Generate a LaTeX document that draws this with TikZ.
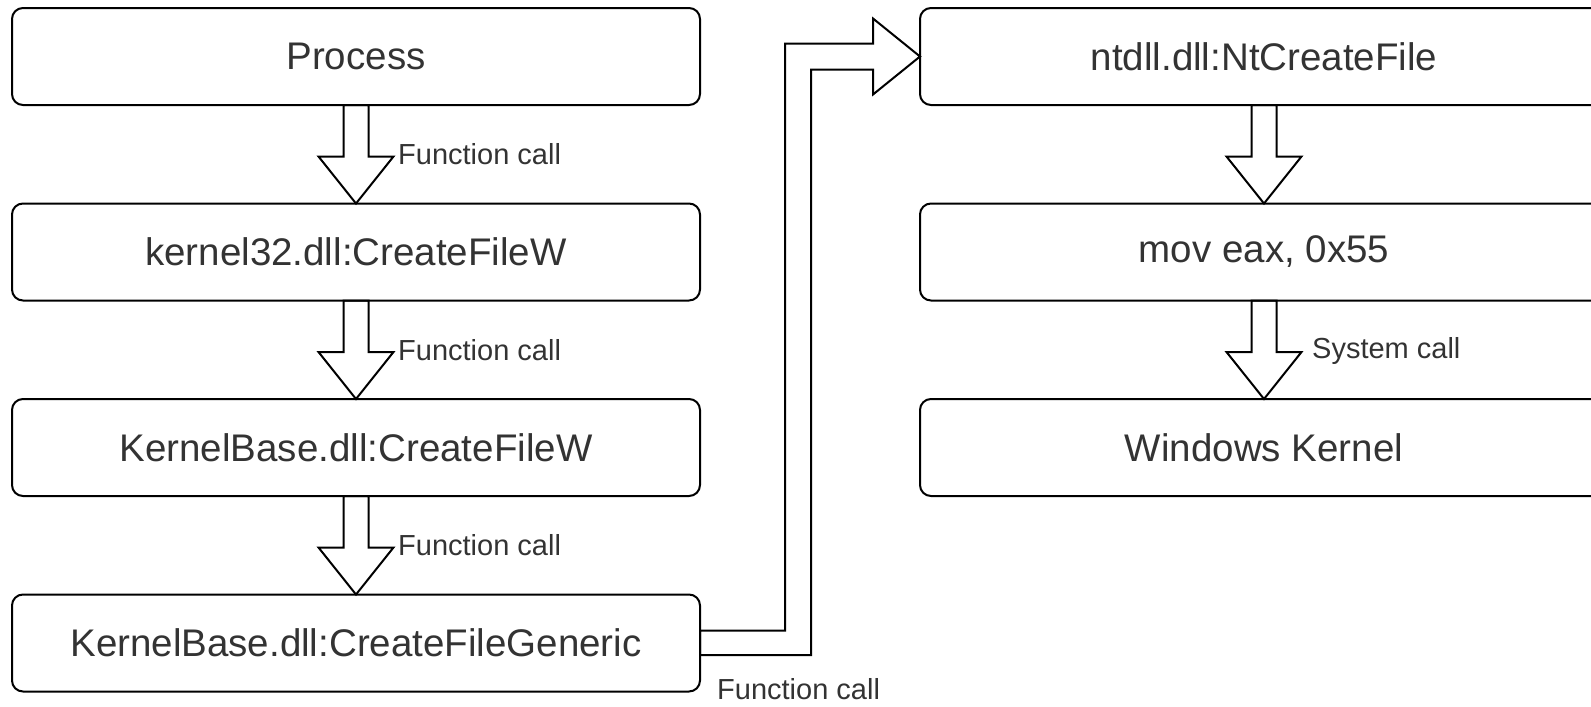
\documentclass[tikz,border=0pt]{standalone}
\usepackage{fontspec}
\setmainfont{Liberation Sans}
\usetikzlibrary{positioning,calc}

\tikzset{
    callbox/.style={rectangle, draw, line width=2pt, rounded corners=11pt,
        minimum width=688pt, minimum height=97pt, outer sep=0pt, text=black!80,
        font=\fontsize{38.5}{46}\selectfont},
    callnote/.style={inner sep=0pt, anchor=base west, text=black!80,
        font=\fontsize{29}{35}\selectfont},
    blockline/.style={draw, line width=2pt, line join=miter},
    downarrow/.style={blockline, to path={
        ($(\tikztostart.south)+(-12.5,0)$) -- ($(\tikztotarget.north)+(-12.5,-47)$)
        -- ++(-25,0) -- (\tikztotarget.north) -- ++(37.5,-47) -- ++(-25,0)
        -- ($(\tikztostart.south)+(12.5,0)$) -- cycle}}
}

\begin{document}
\begin{tikzpicture}[x=1pt, y=-1pt, node distance=98.5pt and 220pt]
    \useasboundingbox (0,0) rectangle (1591,707);
    \clip (0,0) rectangle (1591,707);

    % Left column
    \node (proc) [callbox] at (356,56.5) {Process};
    \node (k32) [callbox, below=of proc] {kernel32.dll:CreateFileW};
    \node (kb) [callbox, below=of k32] {KernelBase.dll:CreateFileW};
    \node (kbg) [callbox, below=of kb] {KernelBase.dll:CreateFileGeneric};

    % Right column
    \node (nt) [callbox, right=of proc] {ntdll.dll:NtCreateFile};
    \node (mov) [callbox, below=of nt] {mov eax, 0x55};
    \node (wk) [callbox, below=of mov] {Windows Kernel};

    % Labels
    \node (fc1) [callnote] at ($(k32.north)+(42,-39)$) {Function call};
    \node (fc2) [callnote] at ($(kb.north)+(42,-39)$) {Function call};
    \node (fc3) [callnote] at ($(kbg.north)+(42,-39)$) {Function call};
    \node (fc4) [callnote] at ($(kbg.east)+(17,56.5)$) {Function call};
    \node (sys) [callnote] at ($(wk.north)+(48,-41)$) {System call};

    % Connections
    \draw[downarrow] (proc) to (k32);
    \draw[downarrow] (k32) to (kb);
    \draw[downarrow] (kb) to (kbg);
    \draw[downarrow] (nt) to (mov);
    \draw[downarrow] (mov) to (wk);
    \draw[blockline] ($(kbg.east)+(0,-12.5)$) -| ($(nt.west)+(-135,-13)$)
        -- ++(88,0) -- ++(0,-25) -- (nt.west) -- ++(-47,38) -- ++(0,-25)
        -| ($(kbg.east)+(111,12)$) -- ($(kbg.east)+(0,12)$) -- cycle;
\end{tikzpicture}
\end{document}
